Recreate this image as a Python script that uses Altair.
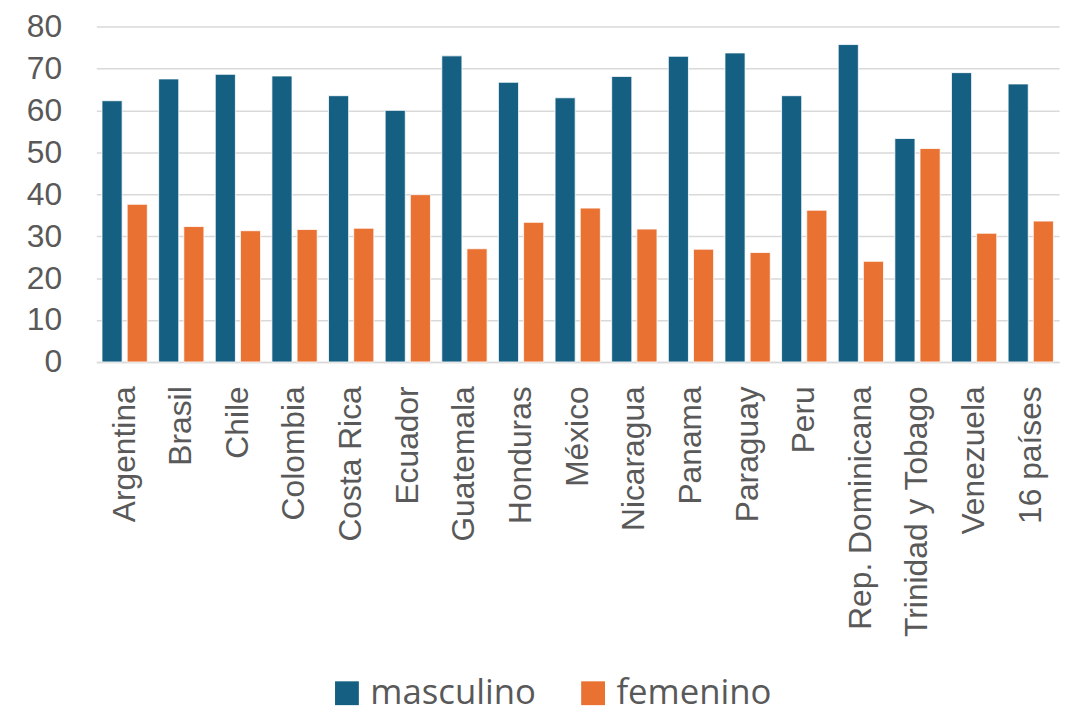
import altair as alt
import pandas as pd

paises = ["Argentina", "Brasil", "Chile", "Colombia", "Costa Rica", "Ecuador",
          "Guatemala", "Honduras", "México", "Nicaragua", "Panama", "Paraguay",
          "Peru", "Rep. Dominicana", "Trinidad y Tobago", "Venezuela", "16 países"]
masculino = [62.3, 67.5, 68.6, 68.2, 63.5, 60.0, 73.0, 66.7, 63.0, 68.1, 72.9,
             73.7, 63.5, 75.7, 53.3, 69.0, 66.3]
femenino = [37.6, 32.3, 31.3, 31.6, 31.9, 39.9, 27.0, 33.3, 36.7, 31.7, 26.9,
            26.1, 36.2, 24.0, 50.9, 30.7, 33.6]
series = ["masculino", "femenino"]
colores = ["#156082", "#E97132"]
ticks_y = [0, 10, 20, 30, 40, 50, 60, 70, 80]

rows = []
for p, m, f in zip(paises, masculino, femenino):
    rows.append({"pais": p, "sexo": "masculino", "valor": m})
    rows.append({"pais": p, "sexo": "femenino", "valor": f})
df = pd.DataFrame(rows)

FONT = "Liberation Sans"
GRAY = "#595959"
GRID = "#d9d9d9"

chart = alt.Chart(df).mark_bar(stroke="white", strokeWidth=0.8).encode(
    x=alt.X("pais:N", sort=paises,
            scale=alt.Scale(paddingInner=0.2, paddingOuter=0.1),
            axis=alt.Axis(title=None, labelAngle=-90, labelFontSize=32,
                          labelPadding=24, ticks=False, domainColor=GRID,
                          domainWidth=1.5, labelColor=GRAY, labelFont=FONT,
                          labelLimit=400)),
    xOffset=alt.XOffset("sexo:N", sort=series,
                        scale=alt.Scale(domain=series, paddingInner=0.2)),
    y=alt.Y("valor:Q", scale=alt.Scale(domain=[0, 80]),
            axis=alt.Axis(title=None, values=ticks_y, domain=False, ticks=False,
                          labelFontSize=32, labelColor=GRAY, labelFont=FONT,
                          labelPadding=35, gridColor=GRID, gridWidth=1.5)),
    color=alt.Color("sexo:N", sort=series,
                    scale=alt.Scale(domain=series, range=colores),
                    legend=alt.Legend(title=None, orient="none", direction="horizontal",
                                      legendX=235, legendY=654,
                                      symbolType="square", symbolSize=576,
                                      symbolStrokeWidth=0,
                                      labelFontSize=35, labelColor=GRAY,
                                      labelFont="Open Sans", labelOffset=6,
                                      columnPadding=40, labelLimit=400))
).properties(
    width=970, height=338,
    autosize=alt.AutoSizeParams(type="none"),
    padding={"left": 89, "top": 16, "right": 10, "bottom": 348}
).configure_view(stroke=None)

chart.save("out.html", embed_options={"renderer": "svg", "actions": False})
